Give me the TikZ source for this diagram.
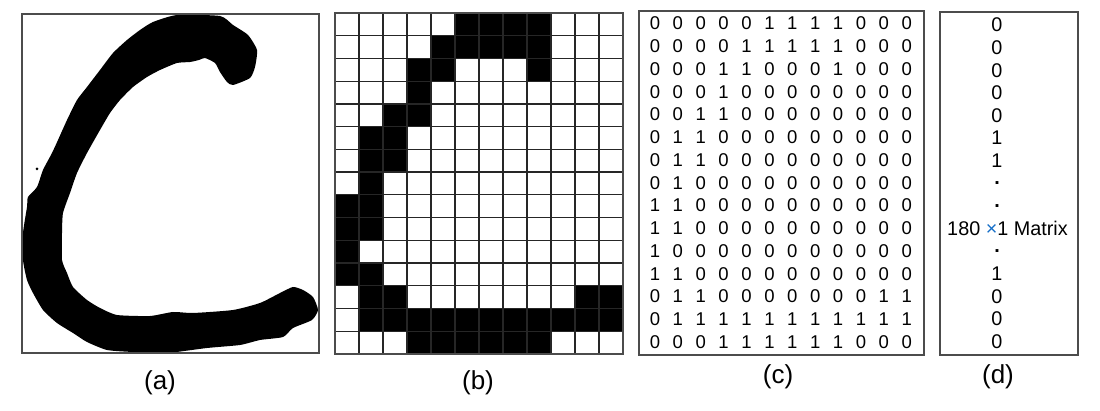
\documentclass[tikz,border=0pt]{standalone}
\usepackage{fontspec}
\setmainfont{Liberation Sans}
\definecolor{xblue}{RGB}{20,110,200}
\begin{document}
\begin{tikzpicture}[x=0.5pt,y=-0.5pt,
  panel/.style={draw=black!70,line width=0.75pt},
  gridline/.style={draw=black!85,line width=0.65pt},
  digit/.style={inner sep=0pt,font=\fontsize{9.25}{11}\selectfont},
  vecitem/.style={inner sep=0pt,font=\fontsize{9.9}{11}\selectfont},
  caption/.style={inner sep=0pt,font=\fontsize{13}{15}\selectfont}]
\useasboundingbox (0,0) rectangle (1100,411);
\fill[white] (0,0) rectangle (1100,411);

% ---------- (a) handwritten C ----------
\fill[black] plot[smooth cycle, tension=0.35] coordinates {
 (153,22) (177,15) (220,16) (233,25) (248,35) (257,50) (255,67) (250,78)
 (233,85) (227,82) (220,72) (215,63) (205,58) (199,60) (190,62) (177,63)
 (160,70) (147,77) (133,87) (120,100) (110,113) (100,130) (87,153) (77,173)
 (70,193) (63,213) (62,233) (62,260) (67,273) (73,287) (87,300) (100,308)
 (117,315) (150,316) (173,312) (193,313) (233,310) (260,303) (280,293)
 (293,287) (303,290) (313,297) (318,310) (312,320) (293,328) (283,337)
 (260,340) (240,345) (207,348) (167,353) (133,352) (107,350) (87,342)
 (73,333) (57,323) (43,310) (33,293) (27,280) (23,260) (23,233) (27,207)
 (28,197) (37,187) (43,170) (52,153) (58,140) (67,120) (77,100) (87,87)
 (100,70) (113,53) (127,40) (140,30)};
\fill[black] (37,169) circle (1.5);
\draw[panel] (22,14) rectangle (319,353);
\node[caption] (capa) at (160,383) {(a)};

% ---------- (b) grid and (c) matrix ----------
\def\cellw{24}
\def\cellh{22.73}
\foreach \row [count=\i from 0] in {
 {0,0,0,0,0,1,1,1,1,0,0,0},
 {0,0,0,0,1,1,1,1,1,0,0,0},
 {0,0,0,1,1,0,0,0,1,0,0,0},
 {0,0,0,1,0,0,0,0,0,0,0,0},
 {0,0,1,1,0,0,0,0,0,0,0,0},
 {0,1,1,0,0,0,0,0,0,0,0,0},
 {0,1,1,0,0,0,0,0,0,0,0,0},
 {0,1,0,0,0,0,0,0,0,0,0,0},
 {1,1,0,0,0,0,0,0,0,0,0,0},
 {1,1,0,0,0,0,0,0,0,0,0,0},
 {1,0,0,0,0,0,0,0,0,0,0,0},
 {1,1,0,0,0,0,0,0,0,0,0,0},
 {0,1,1,0,0,0,0,0,0,0,1,1},
 {0,1,1,1,1,1,1,1,1,1,1,1},
 {0,0,0,1,1,1,1,1,1,0,0,0}} {
  \foreach \v [count=\j from 0] in \row {
    \ifnum\v=1
      \fill[black] ({335+\j*\cellw},{13+\i*\cellh}) rectangle ++(\cellw,\cellh);
    \fi
    \node[digit] (c-\i-\j) at ({655+\j*22.88},{23.6+\i*22.74}) {\v};
  }
}
\foreach \k in {1,...,11} \draw[gridline] ({335+\k*\cellw},13) -- ({335+\k*\cellw},354);
\foreach \k in {1,...,14} \draw[gridline] (335,{13+\k*\cellh}) -- (623,{13+\k*\cellh});
\draw[panel] (335,13) rectangle (623,354);
\node[caption] (capb) at (478,383) {(b)};

\draw[panel] (639,11) rectangle (924,355);
\node[caption] (capc) at (778,377) {(c)};

% ---------- (d) vector ----------
\draw[panel] (940,12) rectangle (1078,355);
\foreach \t [count=\i from 0] in {0,0,0,0,0,1,1,{\textbf{.}},{\textbf{.}},{},{\textbf{.}},1,0,0,0} {
  \node[vecitem] (d-\i) at (997,{25+\i*22.6}) {\t};
}
\node[vecitem] (dm) at (1007.5,{25+9*22.6}) {180 {\color{xblue}×}1 Matrix};
\node[caption] (capd) at (998,377) {(d)};
\end{tikzpicture}
\end{document}
